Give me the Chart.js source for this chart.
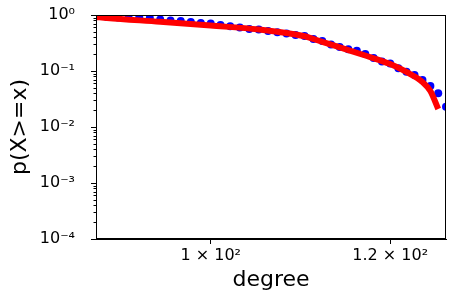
<!DOCTYPE html>
<html>
<head>
<meta charset="utf-8">
<script src="https://cdn.jsdelivr.net/npm/chart.js@4/dist/chart.umd.min.js"></script>
<style>
  html, body { margin: 0; padding: 0; background: #fff; }
  #wrap { width: 457px; height: 297px; }
</style>
</head>
<body>
<div id="wrap"><canvas id="c" width="457" height="297"></canvas></div>
<script>
// Empirical degree distribution (complementary CDF) - blue dots
const degrees = [89,90,91,92,93,94,95,96,97,98,99,100,101,102,103,104,105,106,107,108,
                 109,110,111,112,113,114,115,116,117,118,119,120,121,122,123,124,125,126,127];
const ccdf = [1.0,0.921,0.902,0.884,0.902,0.884,0.831,0.798,0.781,0.750,0.720,0.705,0.663,0.628,0.598,0.562,0.551,0.518,0.491,0.467,
              0.439,0.422,0.373,0.343,0.297,0.268,0.244,0.230,0.201,0.171,0.148,0.136,0.112,0.0971,0.0849,0.0691,0.0540,0.0400,0.0230];

// Fitted curve - red line
const fitDegrees = [89,90,95,100,105,110,112,115,117,120,122,124,125,126];
const fitValues  = [0.921,0.884,0.756,0.647,0.551,0.418,0.330,0.237,0.189,0.133,0.0960,0.0636,0.0439,0.0210];

// Axis ticks
const yTicks = [1e-4,1e-3,1e-2,1e-1,1];
const yTickLabels = ['10\u207B\u2074','10\u207B\u00B3','10\u207B\u00B2','10\u207B\u00B9','10\u2070'];
const xTicks = [100,120];
const xTickLabels = ['1 \u00D7 10\u00B2','1.2 \u00D7 10\u00B2'];

const FONT = 'DejaVu Sans';

const boxPlugin = {
  id: 'box',
  afterDraw(chart) {
    const {ctx, chartArea: a, scales} = chart;
    ctx.save();
    ctx.strokeStyle = '#000';
    ctx.lineWidth = 1;
    ctx.strokeRect(Math.round(a.left) + 0.5, Math.round(a.top) + 0.5,
                   Math.round(a.right - a.left) - 1, Math.round(a.bottom - a.top) - 1);
    const ys = scales.y;
    ctx.beginPath();
    for (let d = -4; d < 0; d++) {
      for (let k = 2; k <= 9; k++) {
        const v = k * Math.pow(10, d);
        const py = Math.round(ys.getPixelForValue(v)) + 0.5;
        ctx.moveTo(a.left - 2.5, py);
        ctx.lineTo(a.left, py);
      }
    }
    ctx.stroke();
    ctx.restore();
  }
};

const data = {
  datasets: [
    {
      label: 'data',
      data: degrees.map((d, i) => ({x: d, y: ccdf[i]})),
      showLine: false,
      pointRadius: 4,
      pointBackgroundColor: '#0000ff',
      pointBorderColor: '#0000ff',
      pointBorderWidth: 0,
      order: 2,
      clip: 0
    },
    {
      label: 'fit',
      data: fitDegrees.map((d, i) => ({x: d, y: fitValues[i]})),
      showLine: true,
      borderColor: '#ff0000',
      borderWidth: 6,
      pointRadius: 0,
      cubicInterpolationMode: 'monotone',
      order: 1,
      clip: 0
    }
  ]
};

new Chart(document.getElementById('c'), {
  type: 'scatter',
  data,
  plugins: [boxPlugin],
  options: {
    responsive: false,
    animation: false,
    layout: { padding: { top: 15, right: 11, left: 0, bottom: 0 } },
    plugins: { legend: { display: false }, tooltip: { enabled: false } },
    scales: {
      x: {
        type: 'logarithmic',
        min: 89, max: 127,
        afterBuildTicks(s) { s.ticks = xTicks.map(v => ({value: v})); },
        afterFit(s) { s.height = 58; s.paddingLeft = 0; s.paddingRight = 0; },
        grid: { drawOnChartArea: false, tickLength: 5, color: '#000', tickColor: '#000' },
        border: { display: true, color: '#000', width: 1 },
        ticks: {
          color: '#000', font: { family: FONT, size: 16 }, padding: 2,
          maxRotation: 0, autoSkip: false,
          callback(v) { const i = xTicks.indexOf(v); return i >= 0 ? xTickLabels[i] : ''; }
        },
        title: { display: true, text: 'degree', color: '#000',
                 font: { family: FONT, size: 22, lineHeight: 1 }, padding: { top: 0, bottom: 6 } }
      },
      y: {
        type: 'logarithmic',
        min: 1e-4, max: 1,
        afterBuildTicks(s) { s.ticks = yTicks.map(v => ({value: v})); },
        afterFit(s) { s.width = 96; s.paddingTop = 0; s.paddingBottom = 0; },
        grid: { drawOnChartArea: false, tickLength: 5, color: '#000', tickColor: '#000' },
        border: { display: true, color: '#000', width: 1 },
        ticks: {
          color: '#000', font: { family: FONT, size: 16 }, padding: 16,
          autoSkip: false,
          callback(v) { const i = yTicks.indexOf(v); return i >= 0 ? yTickLabels[i] : ''; }
        },
        title: { display: true, text: 'p(X>=x)', color: '#000',
                 font: { family: FONT, size: 22, lineHeight: 1 }, padding: { top: 9, bottom: 0 } }
      }
    }
  }
});
</script>
</body>
</html>
